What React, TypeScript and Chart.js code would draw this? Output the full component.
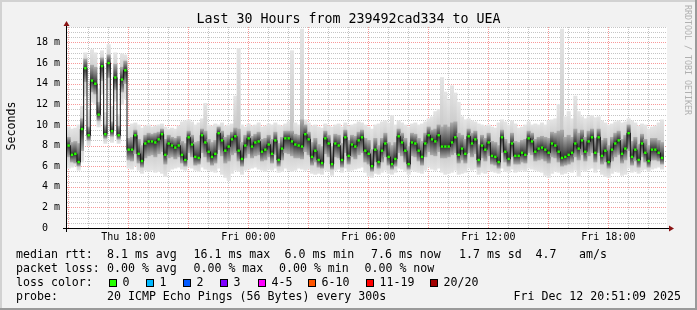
import { useEffect, useRef } from 'react';
import { Chart, registerables } from 'chart.js';

Chart.register(...registerables);

const W = 697;
const H = 310;

// time axis: hours since Thu 00:00; graph spans 30 hours ending Fri 20:56
const startHour = 14.933;
const spanHours = 30;
const slotHours = 1 / 6; // 10-minute samples

// median RTT (ms) per 10-minute sample
const median = [
  8.0, 7.1, 7.2, 6.4, 9.6, 15.5, 9.0, 14.3, 14.0, 11.0,
  15.7, 9.1, 16.0, 9.4, 14.6, 9.0, 14.4, 15.3, 7.6, 7.6,
  9.0, 7.2, 6.5, 8.2, 8.4, 8.4, 8.3, 8.6, 9.1, 7.1,
  8.2, 8.0, 7.8, 8.0, 7.1, 6.6, 8.8, 8.1, 6.9, 6.8,
  9.0, 8.3, 7.4, 6.9, 7.2, 9.2, 8.5, 7.5, 7.9, 8.6,
  8.9, 7.5, 6.7, 8.0, 8.7, 7.9, 8.3, 8.4, 7.4, 7.6,
  8.1, 7.2, 8.5, 6.6, 7.7, 8.7, 8.7, 8.4, 8.1, 8.0,
  7.9, 9.1, 8.6, 6.9, 7.5, 6.6, 6.3, 8.7, 8.2, 6.2,
  8.2, 8.0, 6.6, 8.8, 7.0, 8.1, 7.9, 8.5, 8.8, 7.5,
  7.2, 6.0, 7.6, 6.4, 7.5, 8.2, 6.9, 6.2, 6.7, 8.9,
  8.3, 7.5, 6.2, 8.3, 8.2, 7.5, 6.9, 8.2, 9.0, 8.6,
  8.4, 9.0, 7.9, 7.9, 7.9, 8.3, 8.8, 7.1, 7.7, 7.2,
  8.9, 8.2, 8.6, 6.6, 8.0, 7.6, 8.3, 7.0, 6.9, 6.4,
  8.8, 7.4, 6.7, 8.2, 7.0, 7.0, 7.3, 7.1, 8.7, 8.4,
  7.4, 7.7, 7.8, 7.6, 7.3, 8.2, 8.0, 7.4, 6.8, 6.9,
  7.1, 7.3, 8.2, 7.7, 8.5, 7.4, 8.4, 8.8, 7.3, 8.8,
  7.0, 7.5, 6.4, 7.6, 8.2, 8.5, 7.2, 7.7, 9.2, 6.9,
  7.6, 6.6, 8.2, 7.3, 6.5, 7.6, 7.6, 7.3, 6.8,
];

// lightest smoke: fastest and slowest ping of each sample (ms)
const smokeMin = [
  5.8, 5.9, 6.0, 5.6, 6.4, 12.8, 8.0, 12.2, 12.0, 9.8,
  13.0, 8.2, 13.5, 8.3, 12.3, 8.2, 12.0, 12.5, 5.8, 5.7,
  6.0, 5.6, 5.3, 5.6, 5.5, 5.6, 5.4, 5.5, 5.3, 5.0,
  5.5, 5.7, 5.8, 5.9, 5.7, 5.6, 5.9, 5.8, 5.6, 5.5,
  5.9, 5.7, 5.6, 5.5, 5.4, 5.8, 5.2, 4.9, 4.6, 5.3,
  5.6, 5.5, 5.2, 5.6, 5.7, 5.8, 5.9, 5.7, 5.6, 5.5,
  5.7, 5.6, 5.8, 5.4, 5.5, 5.8, 5.6, 5.5, 5.6, 5.8,
  5.7, 5.6, 5.7, 5.3, 5.2, 5.3, 5.2, 5.6, 5.5, 5.1,
  5.6, 5.7, 5.4, 5.8, 5.5, 5.6, 5.7, 5.8, 5.9, 5.4,
  5.0, 4.9, 5.3, 5.2, 5.4, 5.6, 5.3, 5.2, 5.4, 5.8,
  5.7, 5.5, 5.2, 5.6, 5.5, 5.4, 5.3, 5.6, 5.9, 5.7,
  5.6, 5.8, 5.4, 5.2, 5.3, 5.4, 5.6, 5.2, 5.3, 5.4,
  5.8, 5.6, 5.7, 5.2, 5.4, 5.3, 5.6, 5.5, 5.4, 5.3,
  5.8, 5.5, 5.4, 5.7, 5.4, 5.5, 5.6, 5.5, 5.8, 5.7,
  5.6, 5.5, 5.4, 5.1, 4.9, 5.3, 5.5, 5.4, 5.2, 5.3,
  5.5, 5.4, 5.6, 5.0, 5.6, 5.5, 5.7, 5.8, 5.4, 5.7,
  5.2, 5.0, 4.9, 5.3, 5.5, 5.4, 5.1, 5.2, 5.8, 5.4,
  5.5, 5.3, 5.6, 5.7, 5.5, 5.7, 5.8, 5.9, 5.7,
];
const smokeMax = [
  9.8, 9.6, 9.7, 10.0, 11.8, 17.0, 11.5, 17.3, 17.0, 13.5,
  17.2, 11.2, 17.8, 11.8, 17.0, 11.0, 16.9, 16.8, 9.8, 10.1,
  10.2, 10.0, 9.7, 9.9, 10.0, 9.8, 9.9, 10.0, 10.1, 9.8,
  9.6, 9.7, 9.6, 9.9, 10.3, 10.4, 10.5, 10.3, 10.0, 10.2,
  10.6, 12.1, 10.0, 9.9, 10.1, 10.0, 10.2, 9.9, 10.0, 10.1,
  12.8, 17.4, 10.0, 9.8, 10.1, 9.9, 10.0, 10.2, 9.8, 9.9,
  10.1, 10.0, 10.2, 10.0, 9.9, 10.1, 10.3, 17.2, 10.2, 10.0,
  19.3, 10.5, 10.2, 9.9, 10.0, 9.8, 9.7, 10.1, 9.9, 9.8,
  10.0, 10.1, 9.8, 10.2, 9.9, 10.0, 10.1, 10.3, 10.2, 10.0,
  9.8, 9.6, 10.0, 10.1, 10.3, 10.4, 10.2, 10.9, 10.0, 10.4,
  10.2, 10.0, 9.8, 10.1, 10.2, 10.0, 10.1, 10.3, 10.6, 10.8,
  11.3, 11.5, 14.6, 13.2, 12.4, 13.8, 13.1, 12.2, 10.8, 10.5,
  10.6, 10.4, 10.3, 10.1, 10.0, 9.9, 10.0, 9.8, 9.7, 10.2,
  10.5, 10.3, 10.0, 10.4, 10.1, 9.7, 9.8, 10.0, 10.3, 10.0,
  10.1, 10.0, 10.2, 10.0, 10.4, 10.5, 10.6, 12.0, 19.3, 10.8,
  11.3, 10.6, 12.8, 11.3, 10.8, 10.6, 10.8, 10.9, 10.7, 10.8,
  10.4, 10.2, 10.0, 10.1, 10.3, 10.4, 10.2, 10.3, 10.6, 10.4,
  10.2, 9.9, 10.1, 10.0, 9.6, 9.8, 9.9, 10.2, 10.5,
];

// dark smoke core around the median (ms)
const coreLo = [
  6.9, 6.4, 6.3, 6.0, 7.5, 14.2, 8.5, 13.2, 13.0, 10.4,
  14.3, 8.7, 14.6, 8.9, 13.4, 8.6, 13.2, 14.0, 6.6, 6.5,
  7.2, 6.3, 5.9, 6.8, 7.0, 7.1, 6.9, 7.2, 7.4, 6.2,
  6.8, 6.9, 6.7, 6.9, 6.3, 6.0, 7.3, 6.9, 6.1, 6.2,
  7.3, 6.9, 6.4, 6.1, 6.3, 7.6, 7.0, 6.3, 6.5, 7.1,
  7.3, 6.5, 6.0, 6.8, 7.2, 6.8, 7.0, 7.1, 6.5, 6.6,
  6.9, 6.3, 7.1, 6.0, 6.6, 7.3, 7.2, 7.0, 6.8, 6.8,
  6.7, 7.4, 7.1, 6.1, 6.4, 5.9, 5.8, 7.2, 6.9, 5.7,
  6.9, 6.8, 5.9, 7.3, 6.2, 6.9, 6.7, 7.1, 7.3, 6.4,
  6.2, 5.5, 6.4, 5.8, 6.4, 6.9, 6.1, 5.7, 6.0, 7.3,
  7.0, 6.4, 5.7, 7.0, 6.9, 6.5, 6.1, 6.9, 7.4, 7.1,
  7.0, 7.4, 6.8, 6.8, 6.9, 7.1, 7.3, 6.3, 6.6, 6.3,
  7.3, 6.9, 7.2, 5.9, 6.8, 6.5, 7.0, 6.2, 6.1, 5.8,
  7.3, 6.4, 6.0, 6.9, 6.2, 6.2, 6.4, 6.3, 7.3, 7.1,
  6.5, 6.6, 6.7, 6.5, 6.3, 6.9, 6.8, 6.4, 6.0, 6.1,
  6.2, 6.4, 6.9, 6.6, 7.1, 6.5, 7.0, 7.3, 6.4, 7.3,
  6.2, 6.4, 5.8, 6.5, 6.9, 7.1, 6.3, 6.6, 7.5, 6.1,
  6.5, 5.9, 6.9, 6.4, 5.9, 6.6, 6.6, 6.5, 6.2,
];
const coreHi = [
  8.8, 8.3, 8.4, 8.2, 10.6, 16.4, 9.8, 15.8, 15.6, 12.2,
  16.5, 10.0, 16.8, 10.3, 15.9, 9.9, 15.6, 16.2, 8.7, 8.8,
  9.5, 8.6, 8.0, 9.0, 9.2, 9.1, 9.2, 9.3, 9.6, 8.6,
  9.0, 8.8, 8.7, 8.9, 8.4, 8.2, 9.4, 9.0, 8.3, 8.4,
  9.6, 9.4, 8.6, 8.3, 8.5, 9.8, 9.4, 8.8, 9.0, 9.3,
  9.7, 9.6, 8.3, 9.0, 9.4, 8.9, 9.1, 9.3, 8.6, 8.7,
  9.0, 8.6, 9.3, 8.2, 8.8, 9.4, 9.4, 9.4, 9.1, 9.0,
  10.5, 10.0, 9.3, 8.3, 8.7, 8.1, 7.9, 9.4, 9.0, 7.9,
  9.1, 9.0, 8.2, 9.5, 8.5, 9.0, 8.9, 9.3, 9.5, 8.7,
  8.5, 7.6, 8.7, 8.0, 8.7, 9.2, 8.3, 8.0, 8.3, 9.6,
  9.2, 8.7, 7.9, 9.2, 9.1, 8.7, 8.4, 9.2, 9.8, 9.5,
  9.6, 10.0, 9.8, 10.0, 9.8, 10.2, 10.3, 9.2, 9.0, 8.6,
  9.6, 9.2, 9.4, 8.1, 9.0, 8.7, 9.2, 8.4, 8.3, 8.0,
  9.5, 8.6, 8.2, 9.2, 8.4, 8.3, 8.5, 8.6, 9.4, 9.2,
  8.6, 8.8, 8.9, 8.8, 8.7, 9.3, 9.2, 9.4, 9.5, 8.8,
  9.0, 8.8, 9.6, 9.2, 9.5, 8.8, 9.4, 9.6, 8.7, 9.6,
  8.5, 8.7, 8.0, 8.8, 9.2, 9.4, 8.6, 9.0, 10.0, 8.4,
  8.8, 8.1, 9.1, 8.6, 8.0, 8.7, 8.7, 8.5, 8.3,
];

const xLabelHours = [18, 24, 30, 36, 42];
const xLabels = ['Thu 18:00', 'Fri 00:00', 'Fri 06:00', 'Fri 12:00', 'Fri 18:00'];
const yLabelValues = [0, 2, 4, 6, 8, 10, 12, 14, 16, 18];
const yLabels = ['0  ', '2 m', '4 m', '6 m', '8 m', '10 m', '12 m', '14 m', '16 m', '18 m'];
const yMax = 19.5;

const title = 'Last 30 Hours from 239492cad334 to UEA';
const yTitle = 'Seconds';
const watermark = 'RRDTOOL / TOBI OETIKER';

const rttLabel = 'median rtt:';
const rttItems = ['8.1 ms avg', '16.1 ms max', '6.0 ms min', '7.6 ms now', '1.7 ms sd', '4.7', 'am/s'];
const lossLabel = 'packet loss:';
const lossItems = ['0.00 % avg', '0.00 % max', '0.00 % min', '0.00 % now'];
const lossColorLabel = 'loss color:';
const lossBuckets = ['0', '1', '2', '3', '4-5', '6-10', '11-19', '20/20'];
const lossColors = ['#26ff00', '#00b8ff', '#0059ff', '#7e00ff', '#ff00ff', '#ff5500', '#ff0000', '#a10000'];
const probeLabel = 'probe:';
const probeText = '20 ICMP Echo Pings (56 Bytes) every 300s';
const stampText = 'Fri Dec 12 20:51:09 2025';

// layout (pixels)
const rttX = [107, 193.5, 284.5, 371, 459, 535.5, 579];
const lossX = [107, 193.5, 279, 364.5];
const boxX = [109, 146, 183, 220, 258, 308, 366, 430];
const rowY = [258, 272, 286, 300];

const MONO = '"DejaVu Sans Mono", monospace';

const sampleHours = median.map((_, i) => startHour + (i + 0.5) * slotHours);

const rrdPlugin = {
  id: 'rrdLook',
  beforeDraw(chart: any) {
    const { ctx, chartArea: a } = chart;
    ctx.save();
    ctx.fillStyle = '#f2f2f2';
    ctx.fillRect(0, 0, W, H);
    ctx.fillStyle = '#d2d2d2';
    ctx.fillRect(0, 0, W, 2);
    ctx.fillRect(0, 0, 2, H);
    ctx.fillStyle = '#9a9a9a';
    ctx.fillRect(0, H - 2, W, 2);
    ctx.fillRect(W - 2, 0, 2, H);
    ctx.fillStyle = '#ffffff';
    ctx.fillRect(a.left, a.top, a.right - a.left, a.bottom - a.top);
    ctx.restore();
  },
  beforeDatasetsDraw(chart: any) {
    const { ctx, chartArea: a, scales } = chart;
    const xs = scales.x;
    const ys = scales.y;
    ctx.save();
    ctx.lineWidth = 1;
    ctx.setLineDash([1, 1]);
    const minor = 'rgba(150,150,150,0.55)';
    const major = 'rgba(240,70,70,0.55)';
    const hLine = (v: number, c: string) => {
      const py = Math.round(ys.getPixelForValue(v)) + 0.5;
      ctx.strokeStyle = c;
      ctx.beginPath();
      ctx.moveTo(a.left, py);
      ctx.lineTo(a.right, py);
      ctx.stroke();
    };
    const vLine = (h: number, c: string) => {
      const px = Math.round(xs.getPixelForValue(h)) + 0.5;
      ctx.strokeStyle = c;
      ctx.beginPath();
      ctx.moveTo(px, a.top);
      ctx.lineTo(px, a.bottom);
      ctx.stroke();
    };
    for (let k = 1; k <= yMax * 2; k++) {
      const v = k / 2;
      if (v % 2 !== 0) hLine(v, minor);
    }
    for (let h = Math.ceil(startHour); h <= startHour + spanHours; h++) {
      if (h % 3 !== 0) vLine(h, minor);
    }
    for (let k = 1; k <= yMax * 2; k++) {
      const v = k / 2;
      if (v % 2 === 0) hLine(v, major);
    }
    for (let h = Math.ceil(startHour); h <= startHour + spanHours; h++) {
      if (h % 3 === 0) vLine(h, major);
    }
    ctx.restore();
  },
  afterDraw(chart: any) {
    const { ctx, chartArea: a } = chart;
    ctx.save();
    // axes
    ctx.setLineDash([]);
    ctx.strokeStyle = '#000000';
    ctx.lineWidth = 1;
    ctx.beginPath();
    ctx.moveTo(a.left - 4, a.bottom + 0.5);
    ctx.lineTo(a.right + 2, a.bottom + 0.5);
    ctx.stroke();
    ctx.beginPath();
    ctx.moveTo(a.left - 0.5, a.bottom + 4);
    ctx.lineTo(a.left - 0.5, a.top - 1);
    ctx.stroke();
    ctx.fillStyle = '#8a1414';
    ctx.beginPath();
    ctx.moveTo(a.left - 3.5, a.top - 1);
    ctx.lineTo(a.left + 2.5, a.top - 1);
    ctx.lineTo(a.left - 0.5, a.top - 6);
    ctx.closePath();
    ctx.fill();
    ctx.beginPath();
    ctx.moveTo(a.right + 2, a.bottom - 2.5);
    ctx.lineTo(a.right + 2, a.bottom + 3.5);
    ctx.lineTo(a.right + 7, a.bottom + 0.5);
    ctx.closePath();
    ctx.fill();

    // title
    ctx.fillStyle = '#000000';
    ctx.font = `13.3px ${MONO}`;
    ctx.textAlign = 'center';
    ctx.textBaseline = 'alphabetic';
    ctx.fillText(title, 348.5, 23);

    // y title
    ctx.save();
    ctx.font = `11.6px ${MONO}`;
    ctx.translate(15, 126);
    ctx.rotate(-Math.PI / 2);
    ctx.textAlign = 'center';
    ctx.fillText(yTitle, 0, 0);
    ctx.restore();

    // watermark
    ctx.save();
    ctx.font = `8.3px ${MONO}`;
    ctx.fillStyle = '#b0b0b0';
    ctx.translate(685, 5);
    ctx.rotate(Math.PI / 2);
    ctx.textAlign = 'left';
    ctx.fillText(watermark, 0, 0);
    ctx.restore();

    // legend
    ctx.font = `11.6px ${MONO}`;
    ctx.textAlign = 'left';
    ctx.fillStyle = '#000000';
    ctx.fillText(rttLabel, 16, rowY[0]);
    rttItems.forEach((t, i) => ctx.fillText(t, rttX[i], rowY[0]));
    ctx.fillText(lossLabel, 16, rowY[1]);
    lossItems.forEach((t, i) => ctx.fillText(t, lossX[i], rowY[1]));
    ctx.fillText(lossColorLabel, 16, rowY[2]);
    lossBuckets.forEach((t, i) => {
      const bx = boxX[i];
      ctx.fillStyle = lossColors[i];
      ctx.fillRect(bx, rowY[2] - 7, 8, 8);
      ctx.strokeStyle = '#000000';
      ctx.strokeRect(bx + 0.5, rowY[2] - 6.5, 7, 7);
      ctx.fillStyle = '#000000';
      ctx.fillText(t, bx + 13.5, rowY[2]);
    });
    ctx.fillText(probeLabel, 16, rowY[3]);
    ctx.fillText(probeText, 107, rowY[3]);
    ctx.textAlign = 'right';
    ctx.fillText(stampText, 681, rowY[3]);
    ctx.restore();
  },
};

function gradientFor(c: any, lo: number[], hi: number[], edge: string, center: string, fallback: string) {
  const chart = c.chart;
  const ys = chart.scales && chart.scales.y;
  const i = c.dataIndex;
  if (!ys || i === undefined || c.type !== 'data') return fallback;
  const yt = ys.getPixelForValue(hi[i]);
  const yb = ys.getPixelForValue(lo[i]);
  const ym = ys.getPixelForValue(median[i]);
  if (!isFinite(yt) || !isFinite(yb) || yb - yt < 0.5) return fallback;
  const g = chart.ctx.createLinearGradient(0, yt, 0, yb);
  const t = Math.min(0.97, Math.max(0.03, (ym - yt) / (yb - yt)));
  g.addColorStop(0, edge);
  g.addColorStop(t, center);
  g.addColorStop(1, edge);
  return g;
}

export default function App() {
  const ref = useRef<HTMLCanvasElement>(null);
  useEffect(() => {
    document.body.style.margin = '0';
    const canvas = ref.current;
    if (!canvas) return;
    const chart = new Chart(canvas, {
      type: 'bar',
      data: {
        datasets: [
          {
            type: 'bar',
            label: 'smoke',
            data: sampleHours.map((x, i) => ({ x, y: [smokeMin[i], smokeMax[i]] })) as any,
            backgroundColor: (c: any) => gradientFor(c, smokeMin, smokeMax, '#e4e4e4', '#c0c0c0', '#d6d6d6'),
            borderWidth: 0,
            grouped: false,
            barPercentage: 1,
            categoryPercentage: 1,
            order: 4,
          } as any,
          {
            type: 'bar',
            label: 'core',
            data: sampleHours.map((x, i) => ({ x, y: [coreLo[i], coreHi[i]] })) as any,
            backgroundColor: (c: any) => gradientFor(c, coreLo, coreHi, '#ababab', '#323232', '#555555'),
            borderWidth: 0,
            grouped: false,
            barPercentage: 1,
            categoryPercentage: 1,
            order: 3,
          } as any,
          {
            type: 'line',
            label: 'median',
            data: sampleHours.map((x, i) => ({ x, y: median[i] })),
            borderColor: '#111111',
            borderWidth: 1,
            stepped: 'middle',
            pointRadius: 0,
            order: 2,
          } as any,
          {
            type: 'line',
            label: 'median loss 0',
            data: sampleHours.map((x, i) => ({ x, y: median[i] })),
            showLine: false,
            pointStyle: 'rect',
            pointRadius: 1.7,
            pointBackgroundColor: '#26ff00',
            pointBorderWidth: 0,
            order: 1,
          } as any,
        ],
      },
      options: {
        responsive: false,
        animation: false,
        devicePixelRatio: 1,
        events: [],
        layout: { padding: { top: 27, right: 30, bottom: 0, left: 0 } },
        plugins: { legend: { display: false }, tooltip: { enabled: false }, title: { display: false } },
        scales: {
          x: {
            type: 'linear',
            min: startHour,
            max: startHour + spanHours,
            offset: false,
            grid: { display: false, drawTicks: false },
            border: { display: false },
            afterBuildTicks: (s: any) => {
              const t = [];
              for (let h = Math.ceil(startHour); h <= startHour + spanHours; h++) t.push({ value: h });
              s.ticks = t;
            },
            afterFit: (s: any) => {
              s.height = 82;
            },
            ticks: {
              autoSkip: false,
              maxRotation: 0,
              minRotation: 0,
              padding: 3.5,
              color: '#000000',
              font: { family: MONO, size: 10 },
              callback: (v: any) => {
                const k = xLabelHours.indexOf(Number(v));
                return k >= 0 ? xLabels[k] : '';
              },
            },
          },
          y: {
            type: 'linear',
            min: 0,
            max: yMax,
            grid: { display: false, drawTicks: false },
            border: { display: false },
            afterBuildTicks: (s: any) => {
              const t = [];
              for (let k = 0; k <= yMax * 2; k++) t.push({ value: k / 2 });
              s.ticks = t;
            },
            afterFit: (s: any) => {
              s.width = 67;
            },
            ticks: {
              autoSkip: false,
              padding: 7,
              color: '#000000',
              font: { family: MONO, size: 10 },
              callback: (v: any) => {
                const k = yLabelValues.indexOf(Number(v));
                return k >= 0 ? yLabels[k] : '';
              },
            },
          },
        },
      } as any,
      plugins: [rrdPlugin],
    });
    return () => chart.destroy();
  }, []);
  return <canvas ref={ref} width={W} height={H} style={{ display: 'block', width: W, height: H }} />;
}
